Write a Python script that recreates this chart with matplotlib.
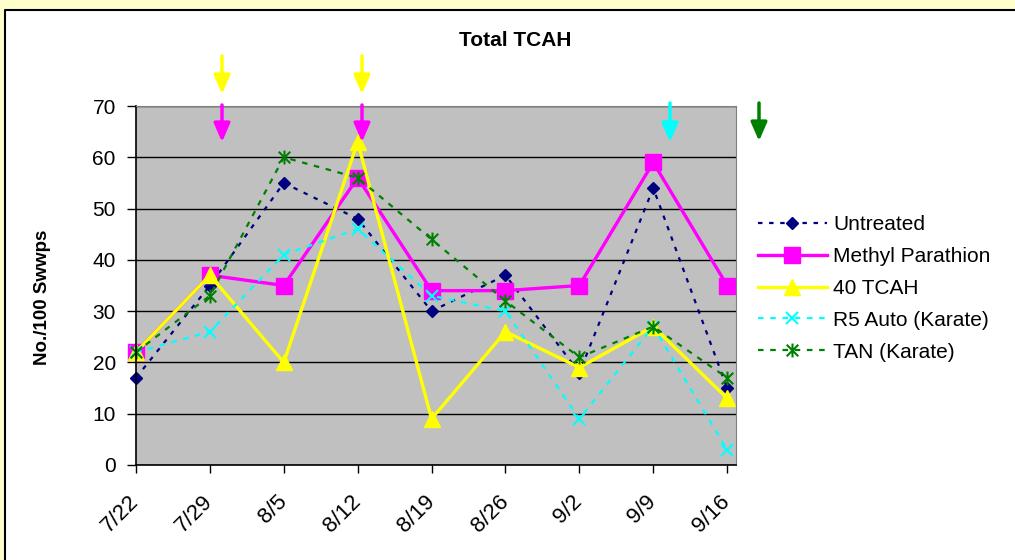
import numpy as np
import matplotlib
matplotlib.use('Agg')
from matplotlib import pyplot as plt
from matplotlib.path import Path
from matplotlib.patches import Rectangle, FancyArrowPatch
from matplotlib.lines import Line2D

plt.rcParams['font.family'] = ['Liberation Sans', 'DejaVu Sans']

# sweep counts per date
dates = ['7/22', '7/29', '8/5', '8/12', '8/19', '8/26', '9/2', '9/9', '9/16']
untreated = [17, 35, 55, 48, 30, 37, 18, 54, 15]
methyl = [22, 37, 35, 56, 34, 34, 35, 59, 35]
tcah40 = [22, 37, 20, 63, 9, 26, 19, 27, 13]
r5auto = [22, 26, 41, 46, 33, 30, 9, 27, 3]
tan = [22, 33, 60, 56, 44, 32, 21, 27, 17]

W, H = 1015, 560
fig = plt.figure(figsize=(W/100, H/100), dpi=100)
fig.patch.set_facecolor('#FFFFCC')

# white chart area, black frame on left and top only (rest runs off the picture)
fig.add_artist(Rectangle((4/W, -0.05), 1.1, 1.05 - 9/H, transform=fig.transFigure,
                         facecolor='white', edgecolor='none', zorder=0))
fig.add_artist(Line2D([4.5/W, 4.5/W, 1.05], [-0.05, 1 - 9.5/H, 1 - 9.5/H],
                      transform=fig.transFigure, color='black', lw=1.5, zorder=0.5))

ax = fig.add_axes([136/W, 1 - 465/H, 600/W, 359/H])
ax.set_facecolor('#C0C0C0')

# excel style star: x with a vertical bar
star = Path([(-1, -1), (1, 1), (-1, 1), (1, -1), (0, -1.2), (0, 1.2)],
            [Path.MOVETO, Path.LINETO, Path.MOVETO, Path.LINETO, Path.MOVETO, Path.LINETO])

x = np.arange(len(dates))
ax.plot(x, untreated, color='#000080', ls=(0, (2, 3)), lw=1.6, marker='D', ms=6,
        label='Untreated', clip_on=False)
ax.plot(x, methyl, color='#FF00FF', lw=2.4, marker='s', ms=11,
        label='Methyl Parathion', clip_on=False)
ax.plot(x, tcah40, color='#FFFF00', lw=2.4, marker='^', ms=12,
        label='40 TCAH', clip_on=False)
ax.plot(x, r5auto, color='#00FFFF', ls=(0, (2.5, 3)), lw=1.6, marker='x', ms=8, mew=1.5,
        label='R5 Auto (Karate)', clip_on=False)
ax.plot(x, tan, color='#008000', ls=(0, (2.5, 3)), lw=1.6, marker=star, ms=10, mew=1.5,
        label='TAN (Karate)', clip_on=False)

ax.set_xlim(0, 8.12)
ax.set_ylim(0, 70)
ax.set_yticks(range(0, 71, 10))
ax.set_xticks(x)
ax.set_xticklabels(dates, rotation=45, ha='right', va='center', rotation_mode='anchor')
ax.grid(axis='y', color='black', lw=1)
ax.set_axisbelow(True)
ax.tick_params(axis='both', direction='out', width=1, colors='black')
ax.tick_params(axis='x', length=6, pad=18, labelsize=16)
ax.tick_params(axis='y', length=6.5, pad=8, labelsize=15)
for s in ['top', 'right']:
    ax.spines[s].set_color('#808080')
for s in ['left', 'bottom']:
    ax.spines[s].set_color('black')
    ax.spines[s].set_linewidth(1.2)

ax.set_ylabel('No./100 Swwps', fontsize=13.5, fontweight='bold')
ax.yaxis.set_label_coords(-0.142, 0.468)
fig.text(515/W, 1 - 40/H, 'Total TCAH', fontsize=15, fontweight='bold',
         ha='center', va='center')

leg = fig.legend(loc='upper left', bbox_to_anchor=(758/W, 1 - 215/H), frameon=False,
                 fontsize=15, handlelength=3.3, handletextpad=0.3, labelspacing=0.62,
                 borderpad=0, borderaxespad=0)

# spray arrows
arrows = [(222, 56, 94, '#FFFF00'), (362, 56, 94, '#FFFF00'),
          (222, 105, 142, '#FF00FF'), (362, 105, 142, '#FF00FF'),
          (670, 103, 142, '#00FFFF'), (759, 103, 141, '#008000')]
for ax_x, y0, y1, c in arrows:
    fig.add_artist(FancyArrowPatch(
        (ax_x/W, 1 - y0/H), (ax_x/W, 1 - y1/H), transform=fig.transFigure,
        arrowstyle='-|>,head_length=0.8,head_width=0.35', mutation_scale=14,
        color=c, lw=2.5, shrinkA=0, shrinkB=0))

fig.savefig('out.png', dpi=100, facecolor=fig.get_facecolor())
